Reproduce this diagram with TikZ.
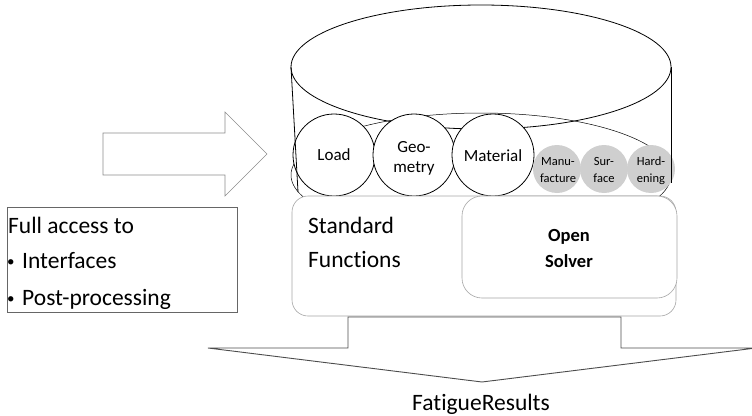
\documentclass[tikz,border=0pt]{standalone}
\usepackage{fontspec}
\setmainfont{Carlito}[Ligatures={NoCommon}]
\begin{document}
\begin{tikzpicture}[x=1pt,y=-1pt,
  line/.style={draw=black,line width=0.8pt},
  wcirc/.style={circle,line,fill=white,minimum size=82pt,inner sep=0pt},
  gcirc/.style={circle,fill=black!19,minimum size=48pt,inner sep=0pt},
  midtxt/.style={font=\fontsize{17}{20}\selectfont,inner sep=0pt,anchor=base},
  smalltxt/.style={font=\fontsize{12.5}{16.5}\selectfont,inner sep=0pt,anchor=base},
  panel/.style={draw=black!35,line width=0.6pt,fill=white},
  big/.style={font=\fontsize{23.5}{36}\selectfont,inner sep=0pt},
  bigbold/.style={font=\fontsize{18.5}{26}\selectfont\bfseries,inner sep=0pt},
  dot/.style={font=\fontsize{15}{20}\selectfont,inner sep=0pt,anchor=base west}
]
\useasboundingbox (0,0) rectangle (752,415);

% cylinder: top and bottom ellipses
\draw[line] (481,67) ellipse [x radius=190, y radius=62];
\draw[line,line width=0.5pt] (481,175) ellipse [x radius=190, y radius=62];

% input parameters
\node[wcirc] (load) at (334,155) {};
\node[wcirc] (geo)  at (414,155) {};
\node[wcirc] (mat)  at (493,155) {};
\node[gcirc] (manu) at (557,169) {};
\node[gcirc] (surf) at (604,169) {};
\node[gcirc] (hard) at (651,169) {};

\node[midtxt] (tload) at (334,160) {Load};
\node[midtxt] (tgeo1) at (414,152) {Geo-};
\node[midtxt] (tgeo2) at (414,172) {metry};
\node[midtxt] (tmat)  at (493,161) {Material};
\node[smalltxt] (tman1) at (558,165) {Manu-};
\node[smalltxt] (tman2) at (558,182) {facture};
\node[smalltxt] (tsur1) at (604,165) {Sur-};
\node[smalltxt] (tsur2) at (604,182) {face};
\node[smalltxt] (thar1) at (651,165) {Hard-};
\node[smalltxt] (thar2) at (651,182) {ening};

% cylinder sides
\coordinate (tl) at (291,67);
\coordinate (bl) at (298,192);
\coordinate (tr) at (671,67);
\coordinate (br) at (671,183);
\draw[line] (tl) -- (bl);
\draw[line] (tr) -- (br);

% solver blocks
\draw[panel,rounded corners=16pt] (292,196) rectangle (676,316);
\draw[panel,rounded corners=20pt] (462,196) rectangle (677,298);
\node[big,anchor=base west] (std1) at (308,233) {Standard};
\node[big,anchor=base west] (std2) at (308,267) {Functions};
\node[bigbold,anchor=base] (op1) at (569,241) {Open};
\node[bigbold,anchor=base] (op2) at (569,267) {Solver};

% access box
\draw[draw=black!60,line width=0.7pt] (7,207) rectangle (237,312);
\node[big,anchor=base west] (acc) at (8,233) {Full access to};
\node[dot] (b1) at (7,266) {•};
\node[big,anchor=base west] (if) at (22,268) {Interfaces};
\node[dot] (b2) at (7,303) {•};
\node[big,anchor=base west] (pp) at (22,305) {Post-processing};

% input arrow
\draw[draw=black!45,line width=0.6pt] (103,133) -- (225,133) -- (225,112) -- (267,154)
  -- (225,196) -- (225,175) -- (103,175) -- cycle;

% output arrow
\draw[draw=black!70,line width=0.9pt] (348,317) -- (621,317) -- (621,348) -- (756,348)
  -- (482,382) -- (208,348) -- (348,348) -- cycle;
\node[big,anchor=base] (res) at (481,410) {FatigueResults};
\end{tikzpicture}
\end{document}
